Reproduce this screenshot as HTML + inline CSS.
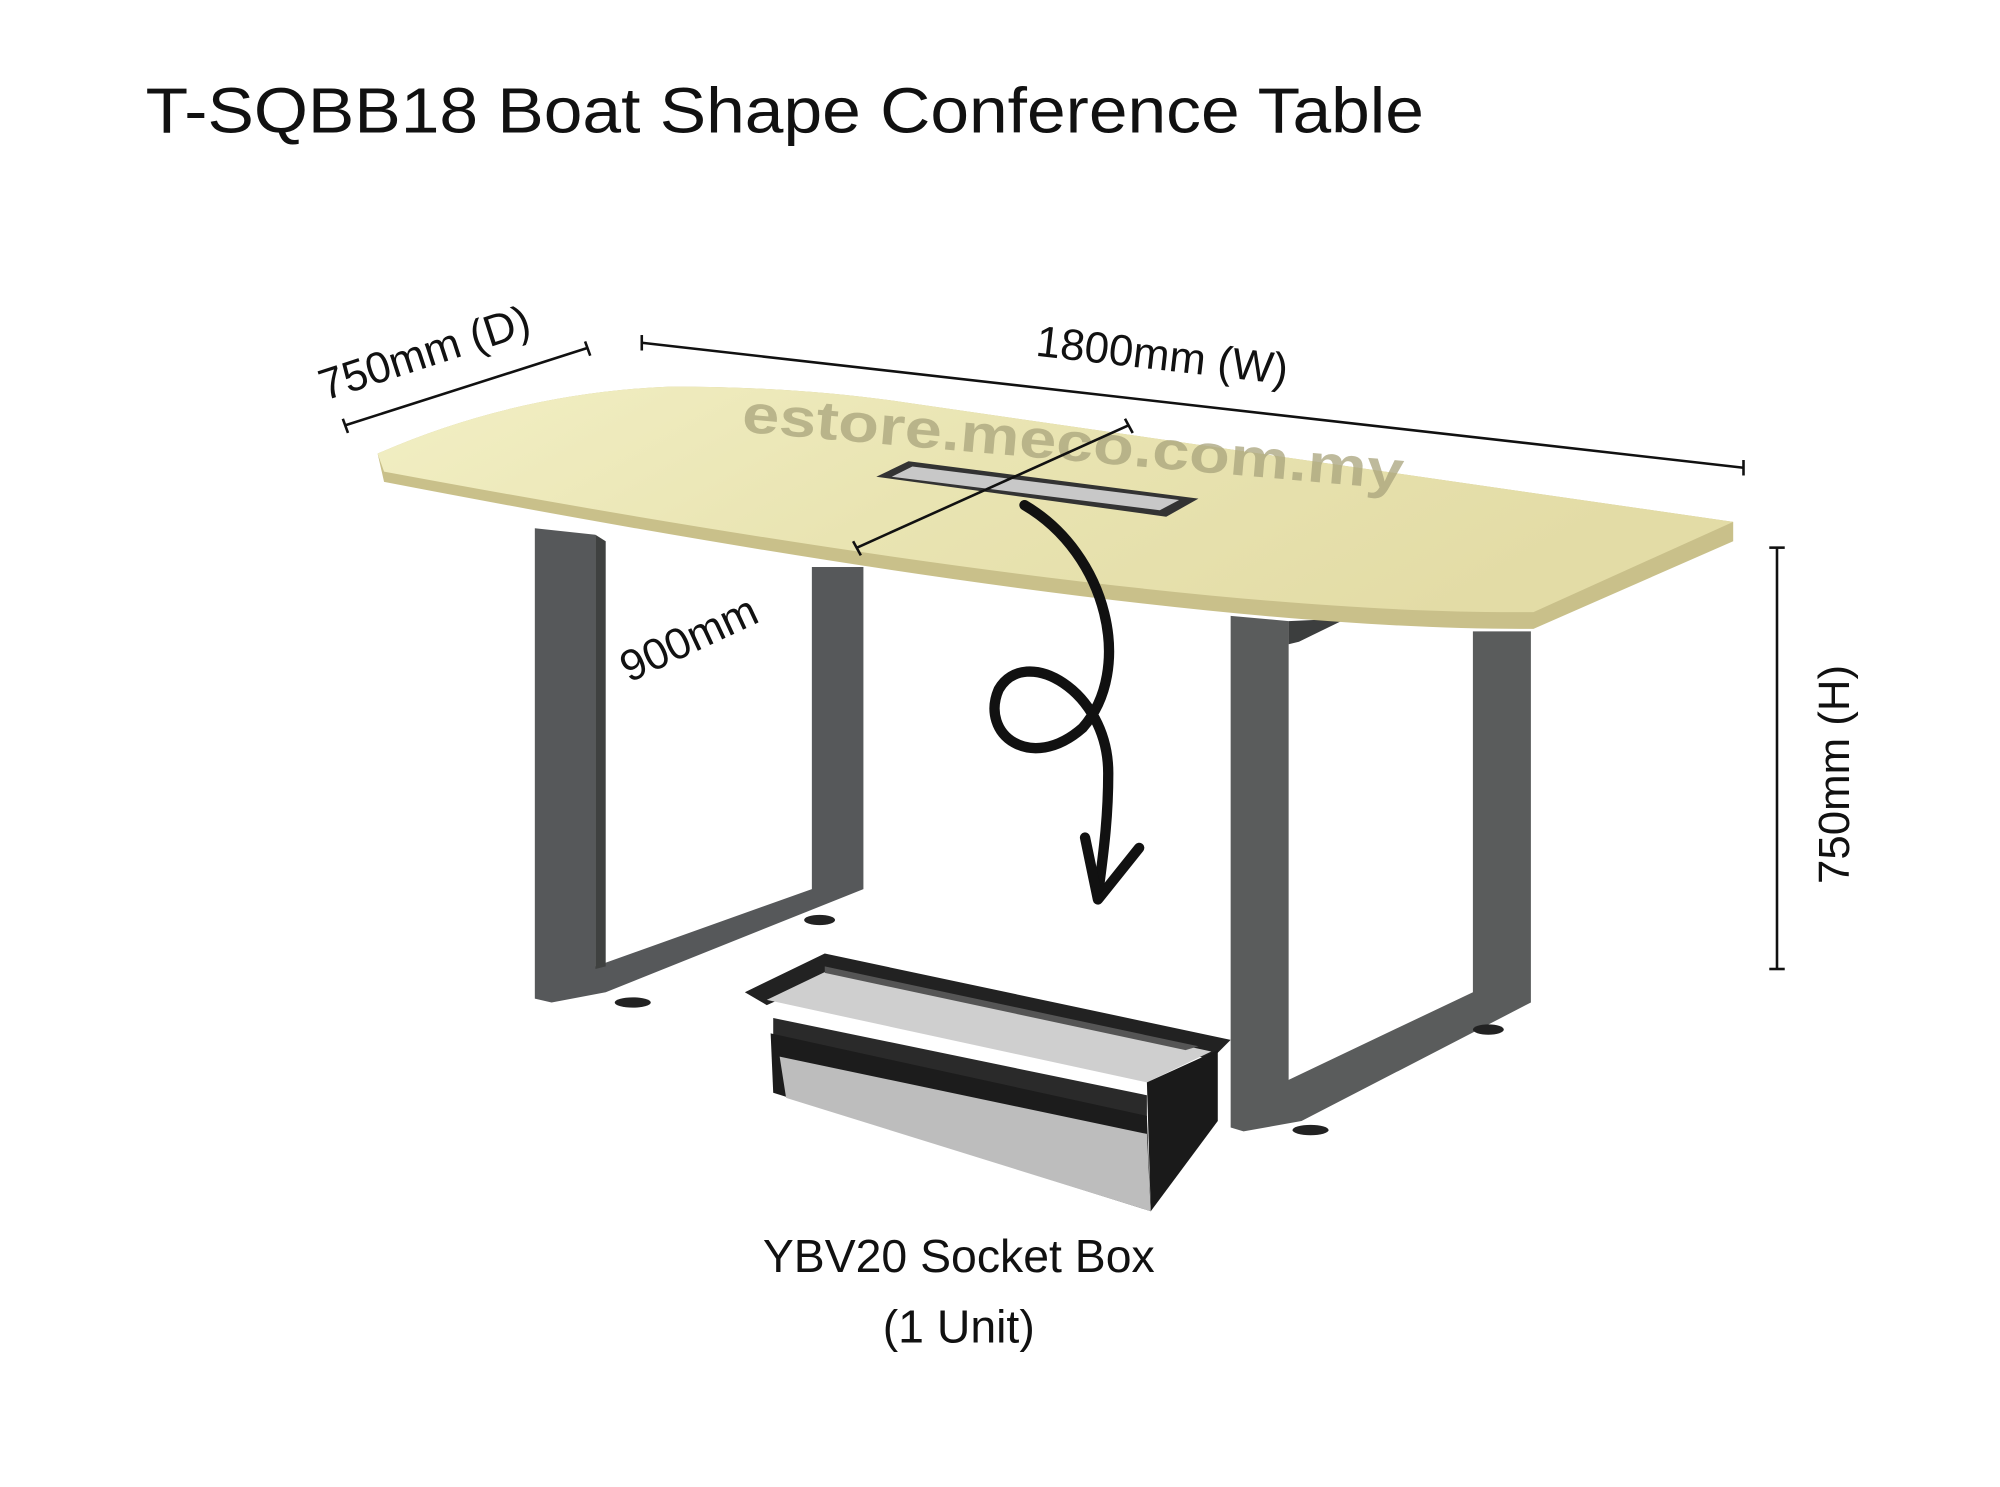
<!DOCTYPE html>
<html><head><meta charset="utf-8"><style>
html,body{margin:0;padding:0;background:#fff}
svg{display:block}
text{font-family:"Liberation Sans","DejaVu Sans",sans-serif;fill:#111}
</style></head><body>
<svg width="2000" height="1487" viewBox="0 0 1552 1154" xmlns="http://www.w3.org/2000/svg">
<defs>
<linearGradient id="top" x1="0" y1="0" x2="1" y2="0.3">
<stop offset="0" stop-color="#f2efc4"/><stop offset="0.5" stop-color="#e9e4b2"/><stop offset="1" stop-color="#e3dca6"/></linearGradient>
</defs>
<text x="113" y="103" font-size="50" textLength="992" lengthAdjust="spacingAndGlyphs">T-SQBB18 Boat Shape Conference Table</text>

<!-- left leg -->
<polygon points="415,410 462,415 462,750 630,690 630,440 670,440 670,690 470,770 428,778 415,775" fill="#56585a"/>
<polygon points="462,415 470,420 470,750 462,752" fill="#3f4140"/>
<ellipse cx="491" cy="778" rx="14" ry="4" fill="#222"/>
<ellipse cx="636" cy="714" rx="12" ry="4" fill="#222"/>
<!-- right leg -->
<polygon points="955,478 1000,482 1000,838 1143,770 1143,490 1188,490 1188,778 1010,870 965,878 955,875" fill="#5a5c5c"/>
<polygon points="1000,482 1045,480 1008,498 1000,500" fill="#3c3e3e"/>
<ellipse cx="1017" cy="877" rx="14" ry="4" fill="#222"/>
<ellipse cx="1155" cy="799" rx="12" ry="4" fill="#222"/>

<!-- table top -->
<path d="M293,352 Q400,305 520,300 Q620,300 700,312 L1345,405 L1345,420 L1190,488 Q900,490 298,374 Z" fill="#c9c08a"/>
<path d="M293,352 Q400,305 520,300 Q620,300 700,312 L1345,405 L1190,475 Q900,478 298,366 Z" fill="url(#top)"/>
<!-- grommet -->
<polygon points="680,370 705,358 930,387 905,401" fill="#333"/>
<polygon points="692,370 708,362 915,388 900,396" fill="#c8c8c8"/>
<text x="575" y="335" font-size="42" font-weight="bold" textLength="515" lengthAdjust="spacingAndGlyphs" style="fill:#a9a47c;opacity:.75" transform="rotate(5 575 335)">estore.meco.com.my</text>

<!-- dimension lines -->
<g stroke="#111" stroke-width="2">
<line x1="268" y1="330" x2="456" y2="270"/><line x1="266" y1="325" x2="270" y2="336"/><line x1="454" y1="265" x2="458" y2="276"/>
<line x1="498" y1="266" x2="1353" y2="363"/><line x1="498" y1="260" x2="498" y2="272"/><line x1="1353" y1="357" x2="1353" y2="369"/>
<line x1="665" y1="425" x2="876" y2="330"/><line x1="662" y1="420" x2="668" y2="431"/><line x1="873" y1="325" x2="879" y2="336"/>
<line x1="1379" y1="425" x2="1379" y2="752"/><line x1="1373" y1="425" x2="1385" y2="425"/><line x1="1373" y1="752" x2="1385" y2="752"/>
</g>
<text x="252" y="311" font-size="34" transform="rotate(-18 252 311)">750mm (D)</text>
<text x="803" y="276" font-size="34" transform="rotate(6.5 803 276)">1800mm (W)</text>
<text x="488" y="530" font-size="34" transform="rotate(-25 488 530)">900mm</text>
<text x="1435" y="686" font-size="34" transform="rotate(-90 1435 686)">750mm (H)</text>

<!-- arrow -->
<path d="M795,392 C860,430 880,520 840,565 C800,600 760,570 775,535 C795,500 860,535 860,600 C860,640 855,670 852,695" fill="none" stroke="#111" stroke-width="8" stroke-linecap="round"/>
<path d="M842,650 L852,698 L884,658" fill="none" stroke="#111" stroke-width="8" stroke-linecap="round" stroke-linejoin="round"/>

<!-- socket box -->
<polygon points="578,770 640,740 955,807 940,822 640,760 595,780" fill="#222"/>
<polygon points="595,776 645,752 940,816 890,840" fill="#cfcfcf"/>
<polygon points="600,790 890,850 890,870 600,808" fill="#2a2a2a"/>
<polygon points="640,750 930,812 920,815 640,755" fill="#555"/>
<polygon points="598,802 890,866 893,940 600,848" fill="#1c1c1c"/>
<polygon points="605,820 890,880 893,940 610,852" fill="#bdbdbd"/>
<polygon points="890,840 945,815 945,870 893,940" fill="#1a1a1a"/>

<text x="744" y="987" font-size="36" text-anchor="middle">YBV20 Socket Box</text>
<text x="744" y="1042" font-size="36" text-anchor="middle">(1 Unit)</text>
</svg>
</body></html>
